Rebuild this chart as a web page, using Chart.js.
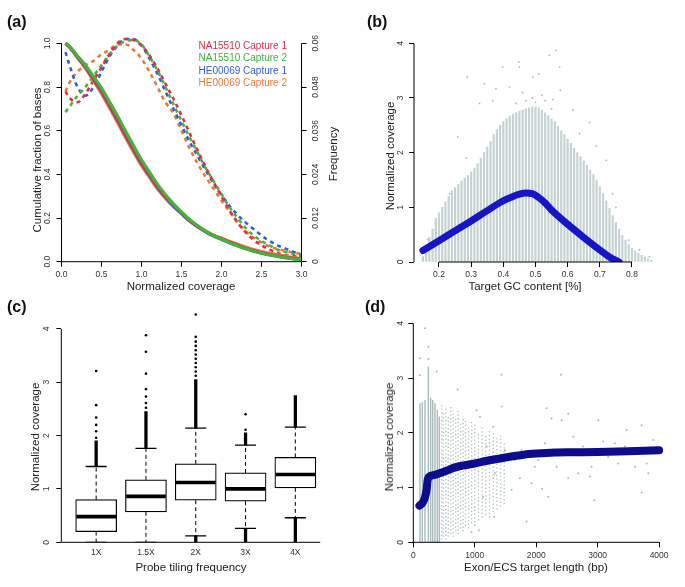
<!DOCTYPE html>
<html lang="en">
<head>
<meta charset="UTF-8">
<title>Coverage figure</title>
<script src="https://cdn.jsdelivr.net/npm/chart.js@4.4.4/dist/chart.umd.min.js"></script>
<style>
  body { margin: 0; background: #fff; font-family: 'Liberation Sans', Arial, sans-serif; }
  #fig { position: relative; width: 685px; height: 587px; overflow: hidden; }
  canvas { position: absolute; }
  .lbl { position: absolute; white-space: nowrap; color: #222; }
  .panel { font-weight: bold; font-size: 16px; line-height: 16px; color: #111; }
  .ttl { font-size: 11.5px; line-height: 14px; }
  .ytl { transform: translate(-50%, -50%) rotate(-90deg); }
  .xtl { transform: translate(-50%, -50%); }
  #legendA { position: absolute; right: 398px; top: 40px; font-size: 10px; line-height: 12.4px; text-align: right; }
</style>
</head>
<body>
<div id="fig">
  <canvas id="cA" width="342" height="295" style="left:0;top:0"></canvas>
  <canvas id="cB" width="343" height="295" style="left:342px;top:0"></canvas>
  <canvas id="cC" width="342" height="292" style="left:0;top:295px"></canvas>
  <canvas id="cD" width="343" height="292" style="left:342px;top:295px"></canvas>

  <div class="lbl panel" style="left:7px;top:14px">(a)</div>
  <div class="lbl panel" style="left:367px;top:14px">(b)</div>
  <div class="lbl panel" style="left:7px;top:299px">(c)</div>
  <div class="lbl panel" style="left:365px;top:299px">(d)</div>

  <div class="lbl ttl ytl" style="left:37px;top:160px">Cumulative fraction of bases</div>
  <div class="lbl ttl ytl" style="left:333px;top:154px">Frequency</div>
  <div class="lbl ttl xtl" style="left:181px;top:286px">Normalized coverage</div>
  <div class="lbl ttl ytl" style="left:390px;top:156px">Normalized coverage</div>
  <div class="lbl ttl xtl" style="left:525px;top:286px">Target GC content [%]</div>
  <div class="lbl ttl ytl" style="left:35px;top:437px">Normalized coverage</div>
  <div class="lbl ttl xtl" style="left:191px;top:567px">Probe tiling frequency</div>
  <div class="lbl ttl ytl" style="left:389px;top:437px">Normalized coverage</div>
  <div class="lbl ttl xtl" style="left:536px;top:567px">Exon/ECS target length (bp)</div>

  <div id="legendA"></div>
</div>

<script>
  // ---------- (a) coverage distributions ----------
  const covX = [0.05, 0.1, 0.2, 0.3, 0.4, 0.5, 0.6, 0.7, 0.8, 0.9, 1.0, 1.1, 1.2, 1.3, 1.4, 1.5, 1.6, 1.7, 1.8, 1.9, 2.0, 2.1, 2.2, 2.3, 2.4, 2.5, 2.6, 2.7, 2.8, 2.9, 3.0];
  const seriesNames = ['NA15510 Capture 1', 'NA15510 Capture 2', 'HE00069 Capture 1', 'HE00069 Capture 2'];
  const seriesColors = ['#de2f48', '#44b33a', '#2f5ed6', '#e8783c'];

  // cumulative fraction of bases (left axis)
  const cumNA1 = [1.0, .985, .94, .895, .84, .785, .72, .655, .585, .52, .455, .40, .345, .30, .26, .225, .19, .163, .14, .12, .105, .09, .076, .062, .05, .041, .033, .026, .02, .015, .011];
  const cumNA2 = [1.0, .985, .942, .9, .848, .795, .732, .667, .598, .532, .467, .41, .354, .307, .265, .228, .193, .165, .14, .12, .103, .087, .073, .06, .048, .039, .031, .024, .018, .013, .009];
  const cumHE1 = [1.0, .984, .938, .892, .836, .78, .716, .65, .58, .514, .45, .395, .341, .296, .256, .221, .187, .16, .137, .117, .102, .087, .073, .06, .049, .04, .032, .025, .019, .014, .01];
  const cumHE2 = [1.0, .982, .934, .886, .828, .77, .705, .638, .569, .503, .44, .386, .334, .29, .252, .219, .187, .161, .139, .121, .107, .093, .08, .067, .056, .047, .039, .032, .025, .019, .014];

  // frequency (right axis)
  const freqNA1 = [.0468, .045, .0438, .0462, .0498, .0534, .057, .06, .0612, .0609, .0594, .0567, .0531, .0489, .0447, .0402, .0354, .0306, .0261, .0219, .018, .0141, .0108, .0081, .006, .0045, .0033, .0024, .0018, .0015, .0012];
  const freqNA2 = [.0411, .0426, .0456, .048, .051, .054, .057, .0594, .0606, .0609, .0597, .0564, .0525, .048, .0432, .0387, .0342, .03, .0258, .0222, .0186, .015, .012, .0093, .0072, .0057, .0045, .0033, .0027, .0021, .0015];
  const freqHE1 = [.0576, .054, .048, .0456, .048, .0522, .0564, .0594, .0612, .0612, .0594, .0558, .0516, .0468, .042, .0375, .033, .0291, .0252, .0216, .0183, .0153, .0129, .0108, .009, .0072, .0057, .0045, .0036, .0027, .0018];
  const freqHE2 = [.0468, .0492, .0522, .054, .0552, .057, .0582, .0597, .0597, .0582, .0558, .0522, .048, .0438, .0408, .036, .0312, .027, .0234, .0201, .0168, .0138, .0108, .0084, .0066, .0053, .0042, .0035, .003, .0025, .0021];

  const covTicks = [0, 0.5, 1, 1.5, 2, 2.5, 3];
  const covTickLabels = ['0.0', '0.5', '1.0', '1.5', '2.0', '2.5', '3.0'];
  const cumTicks = [0, 0.2, 0.4, 0.6, 0.8, 1];
  const cumTickLabels = ['0.0', '0.2', '0.4', '0.6', '0.8', '1.0'];
  const freqTicks = [0, 0.012, 0.024, 0.036, 0.048, 0.06];
  const freqTickLabels = ['0', '0.012', '0.024', '0.036', '0.048', '0.06'];

  // ---------- (b) GC content ----------
  const gcX = [0.15, 0.16, 0.17, 0.18, 0.19, 0.20, 0.21, 0.22, 0.23, 0.24, 0.25, 0.26, 0.27, 0.28, 0.29, 0.30, 0.31, 0.32, 0.33, 0.34, 0.35, 0.36, 0.37, 0.38, 0.39, 0.40, 0.41, 0.42, 0.43, 0.44, 0.45, 0.46, 0.47, 0.48, 0.49, 0.50, 0.51, 0.52, 0.53, 0.54, 0.55, 0.56, 0.57, 0.58, 0.59, 0.60, 0.61, 0.62, 0.63, 0.64, 0.65, 0.66, 0.67, 0.68, 0.69, 0.70, 0.71, 0.72, 0.73, 0.74, 0.75, 0.76, 0.77, 0.78, 0.79, 0.80, 0.81, 0.82, 0.83, 0.84, 0.85, 0.86];
  const gcTop = [0.1, 0.3, 0.45, 0.6, 0.8, 0.9, 1.0, 1.1, 1.2, 1.3, 1.36, 1.42, 1.48, 1.53, 1.58, 1.65, 1.72, 1.8, 1.9, 2.0, 2.1, 2.2, 2.33, 2.42, 2.5, 2.57, 2.62, 2.67, 2.7, 2.73, 2.76, 2.78, 2.8, 2.82, 2.84, 2.84, 2.82, 2.78, 2.73, 2.68, 2.62, 2.57, 2.48, 2.4, 2.33, 2.25, 2.17, 2.08, 2.0, 1.93, 1.85, 1.77, 1.68, 1.6, 1.5, 1.38, 1.25, 1.12, 0.98, 0.85, 0.72, 0.6, 0.49, 0.4, 0.32, 0.25, 0.2, 0.16, 0.12, 0.09, 0.06, 0.03];
  const gcOutX = [0.288, 0.448, 0.543, 0.564, 0.45, 0.398, 0.258, 0.341, 0.377, 0.492, 0.51, 0.575, 0.577, 0.616, 0.637, 0.72, 0.74, 0.75, 0.79, 0.823, 0.854, 0.191, 0.165, 0.233, 0.285, 0.367, 0.419, 0.326, 0.554, 0.668, 0.689, 0.47, 0.49, 0.5, 0.52, 0.44, 0.53, 0.55, 0.46];
  const gcOutY = [3.38, 3.66, 3.78, 3.87, 3.57, 3.57, 2.29, 3.26, 3.17, 3.38, 3.44, 3.57, 3.14, 2.78, 2.35, 1.86, 1.25, 1.0, 0.4, 0.22, 0.1, 0.53, 0.41, 1.25, 1.9, 2.95, 3.2, 2.9, 2.97, 2.55, 2.12, 2.95, 3.0, 2.92, 3.05, 2.9, 2.95, 2.8, 3.1];
  const gcCurveX = [0.15, 0.2, 0.25, 0.3, 0.35, 0.4, 0.43, 0.45, 0.47, 0.49, 0.51, 0.53, 0.55, 0.6, 0.65, 0.7, 0.73, 0.76];
  const gcCurveY = [0.21, 0.39, 0.57, 0.75, 0.94, 1.12, 1.2, 1.24, 1.26, 1.25, 1.18, 1.08, 0.95, 0.69, 0.45, 0.22, 0.09, 0.0];
  const gcTicks = [0.2, 0.3, 0.4, 0.5, 0.6, 0.7, 0.8];
  const gcTickLabels = ['0.2', '0.3', '0.4', '0.5', '0.6', '0.7', '0.8'];
  const covInt = [0, 1, 2, 3, 4];
  const covIntLabels = ['0', '1', '2', '3', '4'];

  // ---------- (c) probe tiling ----------
  const tilingLabels = ['1X', '1.5X', '2X', '3X', '4X'];
  const tilingPos = [1, 2, 3, 4, 5];
  const boxQ1 = [0.20, 0.57, 0.79, 0.77, 1.02];
  const boxMed = [0.48, 0.86, 1.12, 1.00, 1.27];
  const boxQ3 = [0.80, 1.17, 1.47, 1.30, 1.59];
  const whiskLo = [0, 0, 0.12, 0.26, 0.46];
  const whiskHi = [1.42, 1.76, 2.14, 1.82, 2.16];
  const denseUpTo = [1.90, 2.45, 3.05, 2.05, 2.75];
  const outX = [1, 1, 1, 1, 1, 1, 2, 2, 2, 2, 2, 2, 2, 3, 3, 3, 3, 3, 3, 3, 3, 3, 3, 3, 4, 4];
  const outY = [1.96, 2.08, 2.2, 2.34, 2.57, 3.21, 2.52, 2.61, 2.73, 2.87, 3.16, 3.57, 3.88, 3.12, 3.2, 3.28, 3.36, 3.44, 3.52, 3.6, 3.68, 3.76, 3.85, 4.27, 2.11, 2.4];

  // ---------- (d) target length ----------
  const lenDenseX = [109, 147, 190, 245, 283, 316, 353, 391, 424];
  const lenDenseHi = [2.54, 2.56, 2.6, 3.21, 2.64, 2.6, 2.54, 2.42, 2.3];
  const lenSparseX = [462, 489, 530, 570, 610, 650, 690, 730, 770, 810, 850, 900, 950, 1000, 1060, 1120, 1180, 1240, 1300, 1360, 1420, 1480];
  const lenSparseLo = [0.05, 0.1, 0.05, 0.1, 0.15, 0.1, 0.2, 0.15, 0.25, 0.2, 0.3, 0.25, 0.35, 0.3, 0.4, 0.45, 0.5, 0.45, 0.55, 0.6, 0.65, 0.7];
  const lenSparseHi = [2.54, 2.4, 2.45, 2.3, 2.5, 2.35, 2.3, 2.4, 2.2, 2.3, 2.25, 2.1, 2.2, 2.15, 2.0, 2.1, 1.95, 2.05, 2.0, 1.9, 1.95, 1.85];
  const lenDotX = [106, 106, 190, 245, 245, 380, 722, 1031, 1086, 1137, 1194, 1300, 1317, 1328, 1436, 1436, 1491, 1599, 1653, 1735, 1762, 1843, 1924, 1978, 2033, 2098, 2142, 2169, 2196, 2250, 2332, 2359, 2402, 2414, 2522, 2522, 2603, 2684, 2766, 2875, 2902, 2945, 3010, 3091, 3172, 3281, 3335, 3444, 3472, 3608, 3716, 3716, 3799, 3825, 3906, 948, 1067];
  const lenDotY = [3.36, 3.05, 3.91, 3.57, 3.35, 3.12, 2.79, 2.41, 2.29, 0.83, 1.75, 2.11, 0.46, 1.26, 3.06, 2.48, 1.68, 0.96, 1.5, 1.17, 1.68, 0.38, 1.08, 1.38, 1.5, 0.98, 1.81, 2.45, 0.83, 2.26, 1.38, 1.63, 3.06, 2.23, 2.35, 1.17, 1.93, 1.26, 1.75, 1.2, 1.38, 0.77, 2.23, 1.84, 1.56, 1.81, 1.44, 1.75, 2.05, 1.38, 2.14, 0.91, 1.44, 1.26, 1.87, 0.19, 0.22];
  const lenCurveX = [100, 150, 190, 215, 235, 260, 350, 450, 550, 650, 800, 1000, 1200, 1500, 1800, 2000, 2300, 2600, 3000, 3500, 4000];
  const lenCurveY = [0.67, 0.72, 0.82, 0.95, 1.15, 1.2, 1.23, 1.27, 1.31, 1.36, 1.4, 1.44, 1.49, 1.55, 1.6, 1.62, 1.64, 1.645, 1.65, 1.665, 1.68];
  const lenTicks = [0, 1000, 2000, 3000, 4000];
  const lenTickLabels = ['0', '1000', '2000', '3000', '4000'];

  // ---------- helpers ----------
  Chart.defaults.font.family = "'Liberation Sans', Arial, Helvetica, sans-serif";
  Chart.defaults.animation = false;
  Chart.defaults.events = [];
  Chart.defaults.plugins.legend.display = false;
  Chart.defaults.plugins.tooltip.enabled = false;

  const pts = (xs, ys) => xs.map((x, i) => ({ x: x, y: ys[i] }));

  // R-style axis lines, drawn only between the given values
  const rAxes = {
    id: 'rAxes',
    afterDatasetsDraw(chart, args, opts) {
      const ctx = chart.ctx;
      ctx.save();
      ctx.strokeStyle = '#000';
      ctx.lineWidth = 1;
      (opts.lines || []).forEach(l => {
        const s = chart.scales[l.scale];
        const a = s.getPixelForValue(l.from), b = s.getPixelForValue(l.to);
        ctx.beginPath();
        if (s.isHorizontal()) {
          ctx.moveTo(a, s.top); ctx.lineTo(b, s.top);
        } else {
          const x = s.position === 'right' ? s.left : s.right;
          ctx.moveTo(x, a); ctx.lineTo(x, b);
        }
        ctx.stroke();
      });
      ctx.restore();
    }
  };

  function xAxis(min, max, ticks, labels, height, drawTicks, pad) {
    return {
      type: 'linear', min: min, max: max, offset: false,
      afterBuildTicks: s => { s.ticks = ticks.map(v => ({ value: v })); },
      afterFit: s => { s.height = height; },
      border: { display: false },
      grid: { drawOnChartArea: false, drawTicks: drawTicks, tickLength: 5, color: '#000', offset: false },
      ticks: { callback: (v, i) => labels[i], font: { size: 8.5 }, color: '#333', padding: pad, maxRotation: 0, autoSkip: false }
    };
  }

  function yAxis(min, max, ticks, labels, width, pad, position) {
    return {
      type: 'linear', position: position || 'left', min: min, max: max,
      afterBuildTicks: s => { s.ticks = ticks.map(v => ({ value: v })); },
      afterFit: s => { s.width = width; },
      border: { display: false },
      grid: { drawOnChartArea: false, tickLength: 5, color: '#000' },
      ticks: { callback: (v, i) => labels[i], font: { size: 8.5 }, color: '#333', padding: pad, minRotation: 90, maxRotation: 90, crossAlign: 'center', autoSkip: false }
    };
  }

  // legend text of panel (a)
  document.getElementById('legendA').innerHTML = seriesNames
    .map((n, i) => `<div style="color:${seriesColors[i]}">${n}</div>`).join('');

  // ---------- chart (a) ----------
  const cumSeries = [cumNA2, cumNA1, cumHE1, cumHE2];
  const cumColors = [seriesColors[1], seriesColors[0], seriesColors[2], seriesColors[3]];
  const freqSeries = [freqNA1, freqNA2, freqHE1, freqHE2];

  new Chart(document.getElementById('cA'), {
    type: 'scatter',
    data: {
      datasets: [
        ...cumSeries.map((d, i) => ({
          type: 'line', data: pts(covX, d), yAxisID: 'y', showLine: true,
          borderColor: cumColors[i], borderWidth: 3.2, pointRadius: 0, cubicInterpolationMode: 'monotone'
        })),
        ...freqSeries.map((d, i) => ({
          type: 'line', data: pts(covX, d), yAxisID: 'y2', showLine: true,
          borderColor: seriesColors[i], borderWidth: 2.6, borderDash: [4, 4], pointRadius: 0, cubicInterpolationMode: 'monotone'
        }))
      ]
    },
    options: {
      responsive: false,
      layout: { padding: { left: 0, right: 10.5, top: 34.6, bottom: 3.3 } },
      scales: {
        x: xAxis(0, 3, covTicks, covTickLabels, 30, true, 3),
        y: yAxis(0, 1.04, cumTicks, cumTickLabels, 61.5, 3),
        y2: yAxis(0, 0.0624, freqTicks, freqTickLabels, 30, -1.5, 'right')
      },
      plugins: { rAxes: { lines: [{ scale: 'x', from: 0, to: 3 }, { scale: 'y', from: 0, to: 1 }, { scale: 'y2', from: 0, to: 0.06 }] } }
    },
    plugins: [rAxes]
  });

  // ---------- chart (b) ----------
  new Chart(document.getElementById('cB'), {
    type: 'scatter',
    data: {
      datasets: [
        {
          type: 'line', data: pts(gcCurveX, gcCurveY), showLine: true, borderColor: '#1616c6', borderWidth: 7,
          borderCapStyle: 'round', borderJoinStyle: 'round', pointRadius: 0, cubicInterpolationMode: 'monotone'
        },
        { type: 'scatter', data: pts(gcOutX, gcOutY), pointRadius: 0.9, backgroundColor: '#a9b9b9', borderWidth: 0 },
        {
          type: 'bar', data: gcX.map((x, i) => ({ x: x, y: [0, gcTop[i]] })),
          backgroundColor: '#c6d2d2', barThickness: 1.5, grouped: false
        }
      ]
    },
    options: {
      responsive: false,
      layout: { padding: { left: 0, right: 24.7, top: 43.3, bottom: 3 } },
      scales: {
        x: xAxis(0.1223, 0.888, gcTicks, gcTickLabels, 30, true, 3),
        y: yAxis(0, 4, covInt, covIntLabels, 72, 5.8)
      },
      plugins: { rAxes: { lines: [{ scale: 'x', from: 0.2, to: 0.8 }, { scale: 'y', from: 0, to: 4 }] } }
    },
    plugins: [rAxes]
  });

  // ---------- chart (c) ----------
  const whiskerPts = [];
  tilingPos.forEach((x, i) => {
    whiskerPts.push({ x: x, y: boxQ3[i] }, { x: x, y: whiskHi[i] }, { x: x, y: null },
                    { x: x, y: boxQ1[i] }, { x: x, y: whiskLo[i] }, { x: x, y: null });
  });
  const capPts = tilingPos.flatMap((x, i) => [{ x: x, y: whiskHi[i] }, { x: x, y: whiskLo[i] }]);
  const denseBars = tilingPos.map((x, i) => ({ x: x, y: [whiskHi[i], denseUpTo[i]] }))
    .concat(tilingPos.filter((x, i) => whiskLo[i] > 0).map(x => ({ x: x, y: [0, whiskLo[x - 1]] })));

  new Chart(document.getElementById('cC'), {
    type: 'scatter',
    data: {
      datasets: [
        {
          type: 'bar', data: tilingPos.map((x, i) => ({ x: x, y: [boxMed[i] - 0.028, boxMed[i] + 0.028] })),
          backgroundColor: '#000', barThickness: 39, grouped: false
        },
        {
          type: 'scatter', data: capPts, pointStyle: 'line', pointRadius: 10.5,
          borderColor: '#000', borderWidth: 1.3
        },
        { type: 'scatter', data: pts(outX, outY), pointRadius: 1.3, backgroundColor: '#000', borderWidth: 0 },
        { type: 'bar', data: denseBars, backgroundColor: '#000', barThickness: 2.6, grouped: false },
        {
          type: 'bar', data: tilingPos.map((x, i) => ({ x: x, y: [boxQ1[i], boxQ3[i]] })),
          backgroundColor: '#fff', borderColor: '#000', borderWidth: 1.2, borderSkipped: false,
          barThickness: 41, grouped: false
        },
        {
          type: 'line', data: whiskerPts, showLine: true, spanGaps: false, borderColor: '#000',
          borderWidth: 1, borderDash: [4, 3], pointRadius: 0
        }
      ]
    },
    options: {
      responsive: false,
      layout: { padding: { left: 0, right: 10.7, top: 6.4, bottom: 14.7 } },
      scales: {
        x: xAxis(0.3, 5.7, tilingPos, tilingLabels, 30, false, 5),
        y: yAxis(0, 4.4, covInt, covIntLabels, 61.3, 7.4)
      },
      plugins: { rAxes: { lines: [{ scale: 'x', from: 0.3, to: 5.5 }, { scale: 'y', from: 0, to: 4 }] } }
    },
    plugins: [rAxes]
  });

  // ---------- chart (d) ----------
  const densePts = [];
  lenDenseX.forEach((x, i) => densePts.push({ x: x, y: 0 }, { x: x, y: lenDenseHi[i] }, { x: x, y: null }));
  const sparsePts = [];
  lenSparseX.forEach((x, i) => sparsePts.push({ x: x, y: lenSparseLo[i] }, { x: x, y: lenSparseHi[i] }, { x: x, y: null }));

  new Chart(document.getElementById('cD'), {
    type: 'scatter',
    data: {
      datasets: [
        {
          type: 'line', data: pts(lenCurveX, lenCurveY), showLine: true, borderColor: '#0c0c8c', borderWidth: 8,
          borderCapStyle: 'round', borderJoinStyle: 'round', pointRadius: 0, cubicInterpolationMode: 'monotone'
        },
        { type: 'scatter', data: pts(lenDotX, lenDotY), pointRadius: 1, backgroundColor: '#a9b9b9', borderWidth: 0 },
        {
          type: 'line', data: sparsePts, showLine: true, spanGaps: false, borderColor: '#aebdbd',
          borderWidth: 1.3, borderDash: [1.3, 2.4], pointRadius: 0
        },
        {
          type: 'line', data: densePts, showLine: true, spanGaps: false, borderColor: '#a9baba',
          borderWidth: 1.4, pointRadius: 0
        }
      ]
    },
    options: {
      responsive: false,
      layout: { padding: { left: 0, right: 16.7, top: 28.3, bottom: 14.7 } },
      scales: {
        x: xAxis(0, 4150, lenTicks, lenTickLabels, 30, true, 3),
        y: yAxis(0, 4, covInt, covIntLabels, 71.3, 5)
      },
      plugins: { rAxes: { lines: [{ scale: 'x', from: 0, to: 4000 }, { scale: 'y', from: 0, to: 4 }] } }
    },
    plugins: [rAxes]
  });
</script>
</body>
</html>
